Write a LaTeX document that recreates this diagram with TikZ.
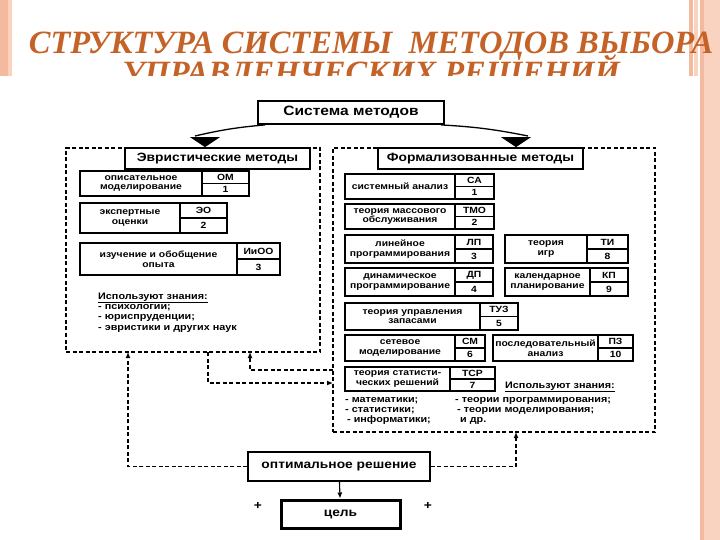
\documentclass[tikz,border=0pt]{standalone}
\usepackage{fontspec}
\setmainfont{Liberation Serif}
\newfontfamily\ds[FakeStretch=1.15]{Liberation Sans}
\newfontfamily\titlefont{Liberation Serif}
\usetikzlibrary{arrows.meta,calc}
\definecolor{titlecol}{RGB}{196,98,40}
\definecolor{salmon}{RGB}{244,186,160}
\definecolor{salmonlt}{RGB}{250,210,192}
\tikzset{
  cell/.style={draw, line width=1.3pt, inner sep=0pt, align=center,
    font=\ds\bfseries\fontsize{9}{9.5}\selectfont},
  hdr/.style={draw, line width=1.8pt, fill=white, inner sep=0pt,
    font=\ds\bfseries\fontsize{12}{14}\selectfont},
  region/.style={draw, dash pattern=on 4pt off 2.5pt, line width=1.3pt, inner sep=0pt},
  conn/.style={dash pattern=on 4pt off 2.5pt, line width=1.2pt, -{Latex[length=6pt,width=5pt]}},
  bigline/.style={line width=1.3pt},
  bighead/.style={line width=0pt, -{Triangle[length=10pt,width=30pt]}},
  listtxt/.style={anchor=base west, inner sep=0pt, font=\ds\bfseries\fontsize{9.4}{10}\selectfont},
  titletxt/.style={anchor=base, inner sep=0pt, text=titlecol,
    font=\titlefont\bfseries\itshape\fontsize{32.5}{33}\selectfont}
}
\newcommand{\methbox}[9]{%
  \node[cell, minimum width={(#4-#2)*1pt}, minimum height={(#6-#3)*1pt}] (#1) at ({(#2+#4)/2},{(#3+#6)/2}) {#7};
  \node[cell, minimum width={(#5-#4)*1pt}, minimum height={(#6-#3)*0.5pt}] (#1a) at ({(#4+#5)/2},{#3+(#6-#3)/4}) {#8};
  \node[cell, minimum width={(#5-#4)*1pt}, minimum height={(#6-#3)*0.5pt}] (#1n) at ({(#4+#5)/2},{#3+3*(#6-#3)/4}) {#9};
}
\begin{document}
\begin{tikzpicture}[x=1pt,y=-1pt]
\useasboundingbox (0,0) rectangle (720,540);
\fill[white] (0,0) rectangle (720,540);
% decorative stripes
\fill[salmon] (0,0) rectangle (8,76);
\fill[salmonlt] (8,0) rectangle (12,76);
\fill[salmon] (689,0) rectangle (693,76);
\fill[salmonlt] (694,0) rectangle (698,76);
\fill[salmonlt] (700,0) rectangle (720,540);
\fill[salmon] (700,0) rectangle (704,540);
% title
\node[titletxt] (t1) at (371,54) {СТРУКТУРА СИСТЕМЫ\ \ МЕТОДОВ ВЫБОРА};
\begin{scope}
  \clip (0,0) rectangle (720,76);
  \node[titletxt] (t2) at (371,84) {УПРАВЛЕНЧЕСКИХ РЕШЕНИЙ};
\end{scope}
% regions
\node[region, minimum width=254pt, minimum height=204pt] (lreg) at (193,250) {};
\node[region, minimum width=322pt, minimum height=284pt] (rreg) at (494,290) {};
% top
\node[hdr, minimum width=186pt, minimum height=23pt, font=\ds\bfseries\fontsize{13.5}{15}\selectfont] (sys) at (351,112.5) {Система методов};
\node[hdr, minimum width=185pt, minimum height=21pt] (heur) at (217.5,158.5) {Эвристические методы};
\node[hdr, minimum width=205pt, minimum height=21pt] (form) at (480.5,158.5) {Формализованные методы};
\coordinate (aL) at (205,138);
\coordinate (aR) at (516,138);
\draw[bigline] ([xshift=8pt]sys.south west) to[bend right=4] ([xshift=-10pt,yshift=2pt]aL);
\draw[bigline] ([xshift=-4pt]sys.south east) to[bend left=4] ([xshift=12pt,yshift=2pt]aR);
\draw[bighead] (aL) -- (aL |- heur.north);
\draw[bighead] (aR) -- (aR |- form.north);
% left column
\methbox{om}{80}{171}{202}{249}{196}{описательное\\моделирование}{ОМ}{1}
\methbox{eo}{80}{203}{180}{227}{233}{экспертные\\оценки}{ЭО}{2}
\methbox{ioo}{80}{243}{237}{280}{275}{изучение и обобщение\\опыта}{ИиОО}{3}
\node[listtxt] (lk0) at (98,299) {\underline{Используют знания:}};
\node[listtxt] (lk1) at (98,309) {- психологии;};
\node[listtxt] (lk2) at (98,319.5) {- юриспруденции;};
\node[listtxt] (lk3) at (98,330) {- эвристики и других наук};
% right column
\methbox{sa}{345}{174}{455}{494}{199}{системный анализ}{СА}{1}
\methbox{tmo}{345}{204}{455}{494}{229}{теория массового\\обслуживания}{ТМО}{2}
\methbox{lp}{345}{235}{455}{493}{263}{линейное\\программирования}{ЛП}{3}
\methbox{ti}{505}{235}{587}{628}{263}{теория\\игр}{ТИ}{8}
\methbox{dp}{345}{268}{455}{493}{296}{динамическое\\программирование}{ДП}{4}
\methbox{kp}{505}{268}{590}{628}{296}{календарное\\планирование}{КП}{9}
\methbox{tuz}{345}{303}{480}{518}{330}{теория управления\\запасами}{ТУЗ}{5}
\methbox{sm}{345}{335}{455}{485}{361}{сетевое\\моделирование}{СМ}{6}
\methbox{pz}{493}{335}{598}{633}{361}{последовательный\\анализ}{ПЗ}{10}
\methbox{tsr}{345}{367}{450}{495}{391}{теория статисти-\\ческих решений}{ТСР}{7}
\node[listtxt] (rk0) at (505,388) {\underline{Используют знания:}};
\node[listtxt] (rk1) at (345,402) {- математики;};
\node[listtxt] (rk2) at (455,402) {- теории программирования;};
\node[listtxt] (rk3) at (345,412) {- статистики;};
\node[listtxt] (rk4) at (457,412) {- теории моделирования;};
\node[listtxt] (rk5) at (347,422) {- информатики;};
\node[listtxt] (rk6) at (460,422) {и др.};
% bottom
\node[draw, line width=1.4pt, inner sep=0pt, minimum width=182pt, minimum height=29pt,
  font=\ds\bfseries\fontsize{12}{14}\selectfont] (opt) at (339,466.5) {оптимальное решение};
\node[draw, line width=3pt, inner sep=0pt, minimum width=119pt, minimum height=28pt,
  font=\ds\bfseries\fontsize{12}{14}\selectfont] (goal) at (340.5,514) {цель};
\node[inner sep=0pt, font=\ds\bfseries\fontsize{12}{14}\selectfont] (p1) at (258,506) {+};
\node[inner sep=0pt, font=\ds\bfseries\fontsize{12}{14}\selectfont] (p2) at (428,506) {+};
\draw[line width=1.1pt, -{Latex[length=6pt,width=5pt]}] (opt) -- (goal);
% dashed connectors
\coordinate (l1) at (128,352);
\coordinate (r1) at (516,432);
\coordinate (c1s) at (333,370);
\coordinate (c1e) at (250,352);
\coordinate (c2s) at (208,352);
\coordinate (c2e) at (333,383);
\draw[conn] (opt.west) -| (l1);
\draw[conn] (opt.east) -| (r1);
\draw[conn] (c1s) -| (c1e);
\draw[conn] (c2s) |- (c2e);
\end{tikzpicture}
\end{document}
